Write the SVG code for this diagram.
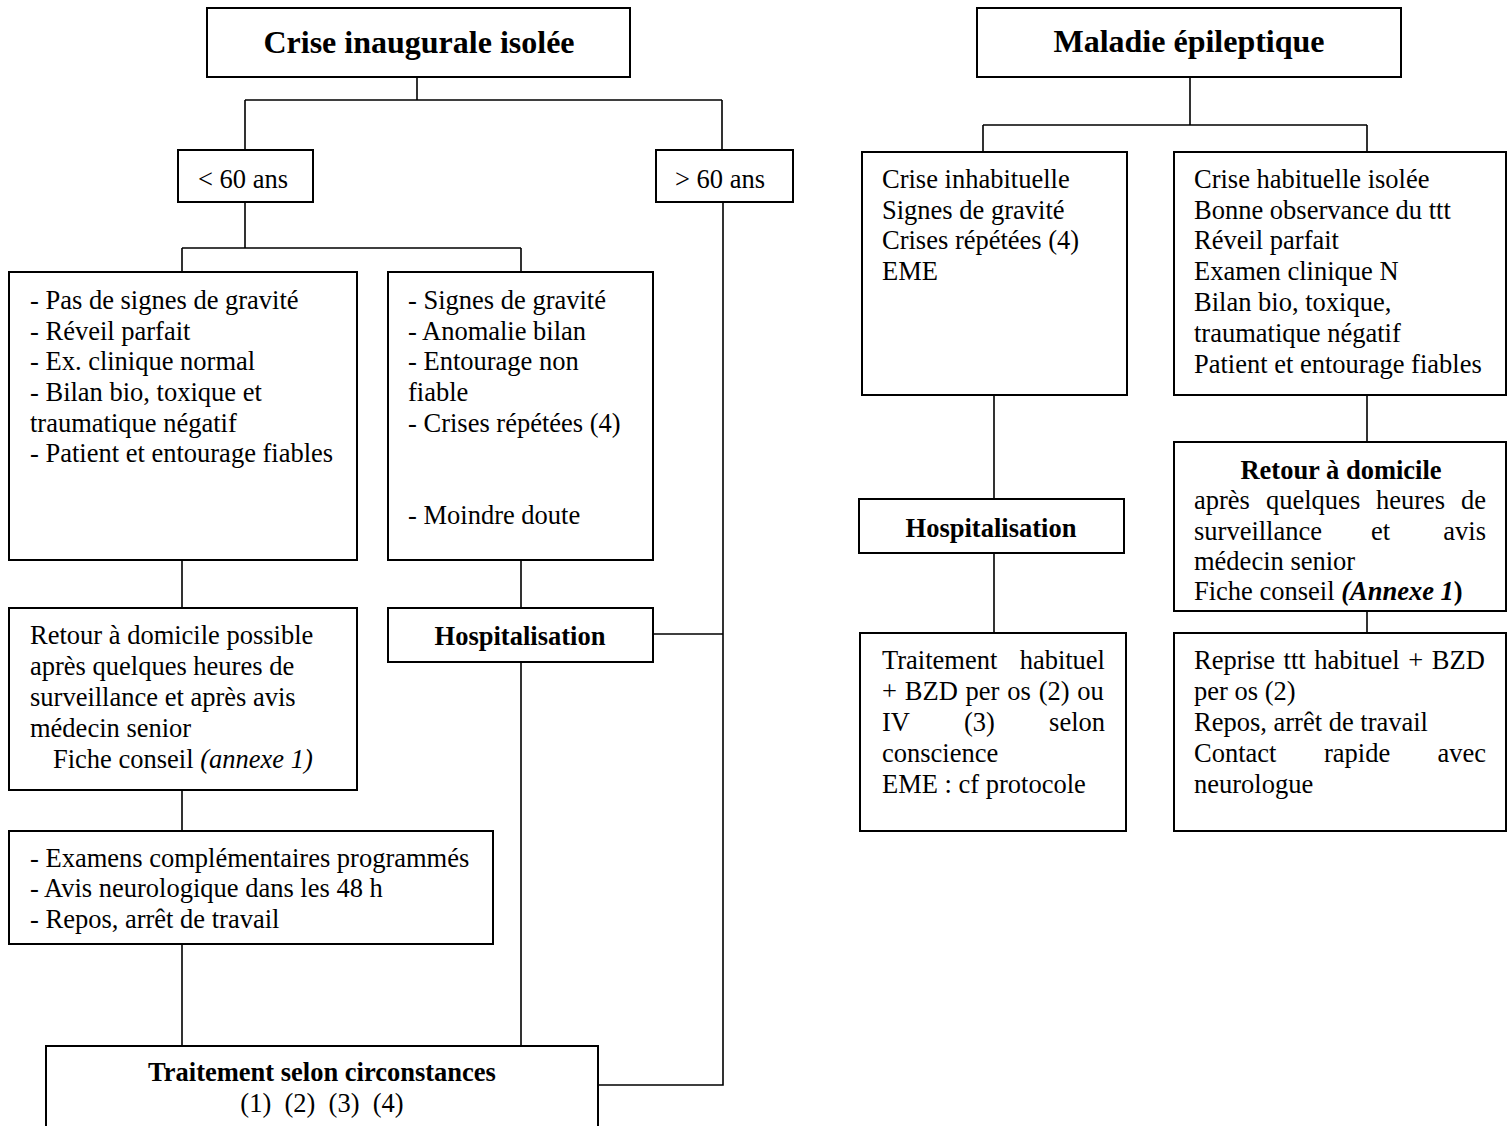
<svg xmlns="http://www.w3.org/2000/svg" width="1509" height="1126" viewBox="0 0 1509 1126">
<style>
.box{fill:#fff;stroke:#000;stroke-width:2}
.ln{fill:none;stroke:#000;stroke-width:1.6}
text{font-family:"Liberation Serif","Times New Roman",serif;font-size:26.5px;fill:#000}
.t{font-size:32px;font-weight:bold;text-anchor:middle}
.b{font-weight:bold}
.c{text-anchor:middle}
.e{text-anchor:end}
.i{font-style:italic}
</style>
<rect width="1509" height="1126" fill="#fff"/>
<g id="connectors">
<path class="ln" d="M417 77V100M245 100H722M245 100V149M722 100V149"/>
<path class="ln" d="M245 202V248M182 248H521M182 248V272M521 248V272"/>
<path class="ln" d="M182 560V608M521 560V608M182 790V831M182 944V1046M521 662V1046M653 634H723M723 202V1085H598"/>
<path class="ln" d="M1190 77V125M983 125H1367M983 125V152M1367 125V152M994 395V499M994 553V633M1367 395V442M1367 611V633"/>
</g>
<g id="n-crise">
<rect class="box" x="207" y="8" width="423" height="69"/>
<text class="t" x="419" y="53">Crise inaugurale isolée</text>
</g>
<g id="n-moins60">
<rect class="box" x="178" y="150" width="135" height="52"/>
<text class="c" x="243" y="188">&lt; 60 ans</text>
</g>
<g id="n-plus60">
<rect class="box" x="656" y="150" width="137" height="52"/>
<text class="c" x="720" y="188">&gt; 60 ans</text>
</g>
<g id="n-pasgravite">
<rect class="box" x="9" y="272" width="348" height="288"/>
<text x="30" y="309">- Pas de signes de gravité</text>
<text x="30" y="340">- Réveil parfait</text>
<text x="30" y="370">- Ex. clinique normal</text>
<text x="30" y="401">- Bilan bio, toxique et</text>
<text x="30" y="432">traumatique négatif</text>
<text x="30" y="462">- Patient et entourage fiables</text>
</g>
<g id="n-gravite">
<rect class="box" x="388" y="272" width="265" height="288"/>
<text x="408" y="309">- Signes de gravité</text>
<text x="408" y="340">- Anomalie bilan</text>
<text x="408" y="370">- Entourage non</text>
<text x="408" y="401">fiable</text>
<text x="408" y="432">- Crises répétées (4)</text>
<text x="408" y="524">- Moindre doute</text>
</g>
<g id="n-retour1">
<rect class="box" x="9" y="608" width="348" height="182"/>
<text x="30" y="644">Retour à domicile possible</text>
<text x="30" y="675">après quelques heures de</text>
<text x="30" y="706">surveillance et après avis</text>
<text x="30" y="737">médecin senior</text>
<text x="53" y="768">Fiche conseil <tspan class="i">(annexe 1)</tspan></text>
</g>
<g id="n-hosp1">
<rect class="box" x="388" y="608" width="265" height="54"/>
<text class="b c" x="520" y="645">Hospitalisation</text>
</g>
<g id="n-examens">
<rect class="box" x="9" y="831" width="484" height="113"/>
<text x="30" y="867">- Examens complémentaires programmés</text>
<text x="30" y="897">- Avis neurologique dans les 48 h</text>
<text x="30" y="928">- Repos, arrêt de travail</text>
</g>
<g id="n-traitement">
<rect class="box" x="46" y="1046" width="552" height="100"/>
<text class="b c" x="322" y="1081">Traitement selon circonstances</text>
<text class="c" x="322" y="1112" xml:space="preserve">(1)  (2)  (3)  (4)</text>
</g>
<g id="n-maladie">
<rect class="box" x="977" y="8" width="424" height="69"/>
<text class="t" x="1189" y="52">Maladie épileptique</text>
</g>
<g id="n-inhabituelle">
<rect class="box" x="862" y="152" width="265" height="243"/>
<text x="882" y="188">Crise inhabituelle</text>
<text x="882" y="219">Signes de gravité</text>
<text x="882" y="249">Crises répétées (4)</text>
<text x="882" y="280">EME</text>
</g>
<g id="n-habituelle">
<rect class="box" x="1174" y="152" width="332" height="243"/>
<text x="1194" y="188">Crise habituelle isolée</text>
<text x="1194" y="219">Bonne observance du ttt</text>
<text x="1194" y="249">Réveil parfait</text>
<text x="1194" y="280">Examen clinique N</text>
<text x="1194" y="311">Bilan bio, toxique,</text>
<text x="1194" y="342">traumatique négatif</text>
<text x="1194" y="373">Patient et entourage fiables</text>
</g>
<g id="n-hosp2">
<rect class="box" x="859" y="499" width="265" height="54"/>
<text class="b c" x="991" y="537">Hospitalisation</text>
</g>
<g id="n-retour2">
<rect class="box" x="1174" y="442" width="332" height="169"/>
<text class="b c" x="1341" y="479">Retour à domicile</text>
<text x="1194" y="509">après</text><text x="1266" y="509">quelques</text><text x="1376" y="509">heures</text><text class="e" x="1486" y="509">de</text>
<text x="1194" y="540">surveillance</text><text x="1371" y="540">et</text><text class="e" x="1486" y="540">avis</text>
<text x="1194" y="570">médecin senior</text>
<text x="1194" y="600">Fiche conseil <tspan class="b i">(Annexe 1</tspan><tspan class="b">)</tspan></text>
</g>
<g id="n-traitement2">
<rect class="box" x="860" y="633" width="266" height="198"/>
<text x="882" y="669">Traitement</text><text class="e" x="1105" y="669">habituel</text>
<text x="882" y="700" word-spacing="1.2">+ BZD per os (2) ou</text>
<text x="882" y="731">IV</text><text x="964" y="731">(3)</text><text class="e" x="1105" y="731">selon</text>
<text x="882" y="762">conscience</text>
<text x="882" y="793">EME : cf protocole</text>
</g>
<g id="n-reprise">
<rect class="box" x="1174" y="633" width="332" height="198"/>
<text x="1194" y="669" word-spacing="2">Reprise ttt habituel + BZD</text>
<text x="1194" y="700">per os (2)</text>
<text x="1194" y="731">Repos, arrêt de travail</text>
<text x="1194" y="762">Contact</text><text x="1324" y="762">rapide</text><text class="e" x="1486" y="762">avec</text>
<text x="1194" y="793">neurologue</text>
</g>
</svg>
